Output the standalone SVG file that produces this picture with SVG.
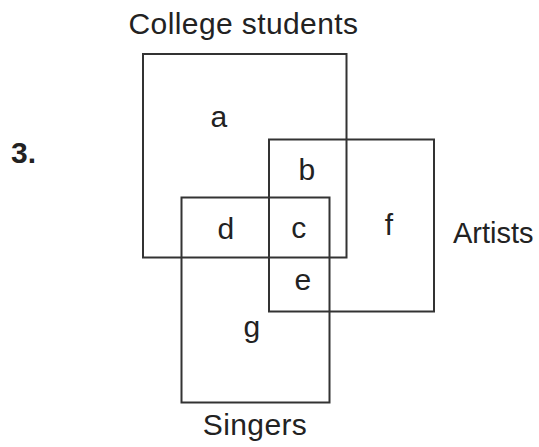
<svg xmlns="http://www.w3.org/2000/svg" width="539" height="447" viewBox="0 0 539 447">
<style>
.box{fill:none;stroke:#333;stroke-width:2}
.t{font-family:"Liberation Sans",Arial,sans-serif;font-size:30px;letter-spacing:0.4px;fill:#222}
.m{text-anchor:middle}
</style>
<rect width="539" height="447" fill="#fff"/>
<text class="t" x="11" y="163" font-weight="bold" style="letter-spacing:0">3.</text>
<g id="college">
<rect class="box" x="143" y="54" width="203.5" height="203.5"/>
<text class="t m" x="243.5" y="34">College students</text>
</g>
<g id="artists">
<rect class="box" x="269" y="139.5" width="165" height="172"/>
<text class="t" x="453" y="243" style="font-size:29px;letter-spacing:0">Artists</text>
</g>
<g id="singers">
<rect class="box" x="181.5" y="197.5" width="148" height="205"/>
<text class="t m" x="255" y="435">Singers</text>
</g>
<g id="regions">
<text class="t m" x="219" y="127">a</text>
<text class="t m" x="307" y="180">b</text>
<text class="t m" x="299" y="238">c</text>
<text class="t m" x="226" y="239">d</text>
<text class="t m" x="303" y="290">e</text>
<text class="t m" x="389" y="235">f</text>
<text class="t m" x="252" y="337">g</text>
</g>
<g id="connectors"></g>
</svg>
